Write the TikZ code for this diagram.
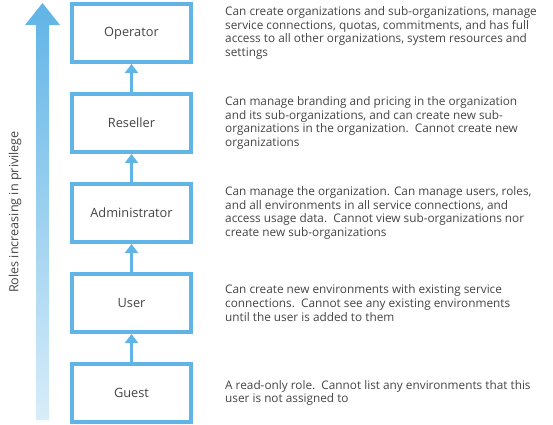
\documentclass[tikz,border=0pt]{standalone}
\usepackage{fontspec}
\setmainfont{Open Sans}
\usetikzlibrary{positioning,arrows.meta}

\definecolor{roleblue}{RGB}{96,180,230}
\definecolor{rolefade}{RGB}{216,237,249}
\definecolor{roletext}{RGB}{68,68,68}

\begin{document}
\begin{tikzpicture}[
    role/.style={draw=roleblue,line width=4pt,minimum width=119pt,minimum height=58pt,
      text=roletext,font=\fontsize{12.8}{15}\selectfont},
    desc/.style={align=left,inner sep=0pt,text=roletext,
      font=\fontsize{11.8}{13.7}\selectfont},
    uparrow/.style={draw=roleblue,line width=3.5pt,
      -{Triangle[width=13pt,length=9pt]}},
    node distance=28pt]
  \useasboundingbox (0,0) rectangle (553pt,-424pt);

  \shade[top color=roleblue,bottom color=rolefade]
    (36pt,-420pt) -- (36pt,-25pt) -- (25pt,-25pt) -- (42.5pt,-3pt)
    -- (60pt,-25pt) -- (49pt,-25pt) -- (49pt,-420pt) -- cycle;
  \node[rotate=90,text=roletext,font=\fontsize{12.6}{15}\selectfont]
    (privilege) at (15pt,-212pt) {Roles increasing in privilege};

  \node[role] (operator) at (131.5pt,-33pt) {Operator};
  \node[role,below=of operator] (reseller) {Reseller};
  \node[role,below=of reseller] (admin) {Administrator};
  \node[role,below=of admin] (user) {User};
  \node[role,below=of user] (guest) {Guest};

  \draw[uparrow] (reseller) -- (operator);
  \draw[uparrow] (admin) -- (reseller);
  \draw[uparrow] (user) -- (admin);
  \draw[uparrow] (guest) -- (user);

  \node[desc,right=32pt of operator] (operator-desc)
    {Can create organizations and sub-organizations, manage\\
     service connections, quotas, commitments, and has full\\
     access to all other organizations, system resources and\\
     settings};
  \node[desc,right=32pt of reseller] (reseller-desc)
    {Can manage branding and pricing in the organization\\
     and its sub-organizations, and can create new sub-\\
     organizations in the organization.\ \ Cannot create new\\
     organizations};
  \node[desc,right=32pt of admin] (admin-desc)
    {Can manage the organization. Can manage users, roles,\\
     and all environments in all service connections, and\\
     access usage data.\ \ Cannot view sub-organizations nor\\
     create new sub-organizations};
  \node[desc,right=32pt of user] (user-desc)
    {Can create new environments with existing service\\
     connections.\ \ Cannot see any existing environments\\
     until the user is added to them};
  \node[desc,right=32pt of guest] (guest-desc)
    {A read-only role.\ \ Cannot list any environments that this\\
     user is not assigned to};
\end{tikzpicture}
\end{document}
